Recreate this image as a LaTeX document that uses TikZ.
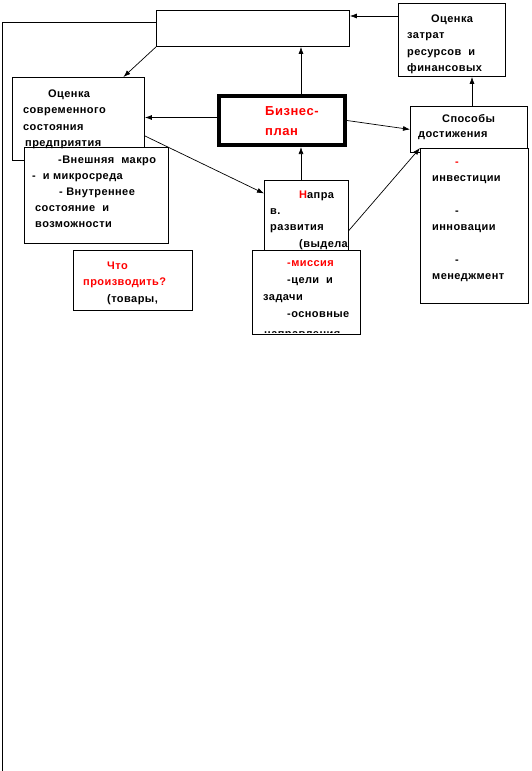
\documentclass[tikz,border=0pt]{standalone}
\usepackage{fontspec}
\setmainfont{Liberation Sans}[LetterSpace=4]
\usepackage{color}
\usetikzlibrary{arrows.meta}

\begin{document}
\begin{tikzpicture}[x=1pt,y=-1pt,
    box/.style={draw, line width=0.9pt, fill=white, anchor=north west, inner sep=0pt},
    txt/.style={anchor=base west, align=left, inner sep=0pt,
      font=\fontsize{11}{16.5}\selectfont\bfseries},
    arr/.style={-{Latex[length=7pt,width=5pt]}, line width=0.7pt}]
      \useasboundingbox (0,0) rectangle (532,771);

      % boxes
      \node (topbox) at (156,10) [box, minimum width=193, minimum height=36] {};
      \node (cost) at (398,3) [box, minimum width=107, minimum height=73] {};
      \node (assess) at (12,77) [box, minimum width=132, minimum height=83] {};
      \node (outer) at (24,147) [box, minimum width=144, minimum height=96] {};
      \node (what) at (73,250) [box, minimum width=119, minimum height=60] {};
      \node (bp) at (217,94) [box, line width=4pt, minimum width=126, minimum height=49] {};
      \node (ways) at (410,106) [box, minimum width=117, minimum height=46] {};
      \node (list) at (420,148) [box, minimum width=108, minimum height=155] {};
      \node (napr) at (264,180) [box, minimum width=84, minimum height=80] {};
      \node (mission) at (252,250) [box, minimum width=108, minimum height=84] {};

      % texts (placed at the baseline of their last line)
      \node (costtxt) at (407,71.5) [txt] {\hspace*{24pt}Оценка\\затрат\\ресурсов\ \ и\\финансовых};
      \node (assesstxt) at (23,146.5) [txt] {\hspace*{25pt}Оценка\\современного\\состояния\\\hspace*{2pt}предприятия};
      \node (outertxt) at (32,227) [txt, font=\fontsize{11}{16}\selectfont\bfseries]
        {\hspace*{26pt}-Внешняя\ \ макро\\-\ \ и микросреда\\\hspace*{27pt}- Внутреннее\\\hspace*{3pt}состояние\ \ и\\\hspace*{3pt}возможности};
      \node (whattxt) at (83,302) [txt]
        {\hspace*{24pt}\textcolor{red}{Что}\\\textcolor{red}{производить?}\\\hspace*{24pt}(товары,};
      \node (bptxt) at (265,135) [txt, text=red, font=\fontsize{13}{20}\selectfont\bfseries] {Бизнес-\\план};
      \node (waystxt) at (418,137) [txt, font=\fontsize{11}{15}\selectfont\bfseries] {\hspace*{24pt}Способы\\достижения};
      \node (listtxt) at (432,279.5) [txt]
        {\hspace*{23pt}\textcolor{red}{-}\\инвестиции\\[16pt]\hspace*{23pt}-\\инновации\\[16pt]\hspace*{23pt}-\\менеджмент};
      \node (naprtxt) at (270,247) [txt, font=\fontsize{11}{16.3}\selectfont\bfseries]
        {\hspace*{29pt}\textcolor{red}{Н}апра\\в.\\развития\\\hspace*{29pt}(выдела};
      \node (missiontxt) at (263,317) [txt, font=\fontsize{11}{16.7}\selectfont\bfseries]
        {\hspace*{24pt}\textcolor{red}{-миссия}\\\hspace*{24pt}-цели\ \ и\\задачи\\\hspace*{24pt}-основные};
      \begin{scope}
        \clip (mission.north west) rectangle (360,332);
        \node (missioncut) at (264,337) [txt] {направления};
      \end{scope}

      % connectors
      \coordinate (lt) at (2,22);
      \coordinate (lb) at (2,771);
      \coordinate (cy) at (0,16);
      \coordinate (vx) at (301,0);
      \coordinate (wx) at (472,0);
      \draw[line width=0.9pt] (lb) -- (lt) -- (lt -| topbox.west);
      \draw[arr]
      (cost.west |- cy) -- (topbox.east |- cy);
      \draw[arr] (topbox.south west) -- ([xshift=45pt]assess.north);
      \draw[arr] (bp.north -| vx) -- (topbox.south -| vx);
      \draw[arr] (napr.north -| vx) -- (bp.south -| vx);
      \draw[arr] ([yshift=3pt]bp.west) -- ([yshift=3pt]bp.west -| assess.east);
      \draw[arr] (bp.east) -- (ways.west);
      \draw[arr] ([yshift=-17pt]assess.east) -- ([yshift=27pt]napr.west);
      \draw[arr] ([yshift=-10pt]napr.east) -- (list.north west);
      \draw[arr] (ways.north -| wx) -- (cost.south -| wx);
    \end{tikzpicture}
\end{document}
